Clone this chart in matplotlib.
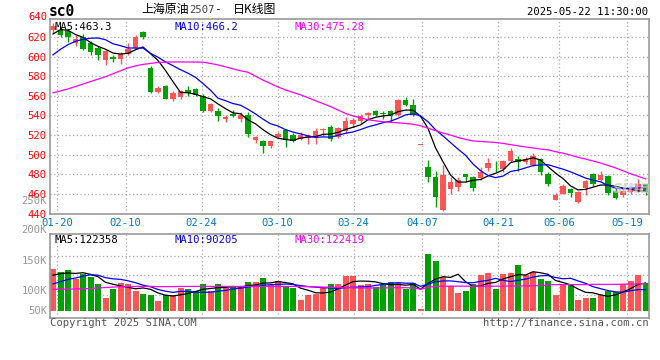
import numpy as np
import pandas as pd
import matplotlib
matplotlib.use('Agg')
import matplotlib.pyplot as plt
from matplotlib.transforms import blended_transform_factory

# trading days shown (01-17 .. 05-22)
dates = ['01-17', '01-20', '01-21', '01-22', '01-23', '01-24', '01-27',
         '02-05', '02-06', '02-07', '02-10', '02-11', '02-12', '02-13', '02-14',
         '02-17', '02-18', '02-19', '02-20', '02-21', '02-24', '02-25', '02-26',
         '02-27', '02-28',
         '03-03', '03-04', '03-05', '03-06', '03-07', '03-10', '03-11', '03-12',
         '03-13', '03-14', '03-17', '03-18', '03-19', '03-20', '03-21', '03-24',
         '03-25', '03-26', '03-27', '03-28', '03-31',
         '04-01', '04-02', '04-03', '04-07', '04-08', '04-09', '04-10', '04-11',
         '04-14', '04-15', '04-16', '04-17', '04-18', '04-21', '04-22', '04-23',
         '04-24', '04-25', '04-28', '04-29', '04-30',
         '05-06', '05-07', '05-08', '05-09', '05-12', '05-13', '05-14', '05-15',
         '05-16', '05-19', '05-20', '05-21', '05-22']
tick_dates = ['01-20', '02-10', '02-24', '03-10', '03-24', '04-07', '04-21', '05-06', '05-19']

opens = [627, 627.5, 626, 614, 620, 614, 609, 597, 600, 598, 603, 609, 625, 588.5, 563.5,
         570.5, 556.5, 559, 566, 567, 560, 544.5, 544.5, 536, 541, 536, 540.5, 515, 513.5, 509,
         518, 525, 520, 516, 517, 517.5, 525, 528.5, 517.5, 524, 531, 534.5, 540, 544, 542.2,
         544, 540, 555.5, 550.3, 510, 487, 477.5, 443.6, 465, 467.5, 480, 477, 476, 486, 488.7,
         485.3, 494, 496, 492, 489.3, 495.4, 480, 454, 460, 465, 451.4, 465.6, 480, 474.4, 478.5,
         463.2, 458.4, 461.5, 464, 470.3]
highs = [634, 630, 627, 621.5, 622.5, 616, 611, 607, 602, 605, 614, 621.5, 626, 590, 570.5,
         571.5, 565, 566, 570.5, 568, 561.5, 553, 548, 540, 546, 543, 543, 519, 515, 514,
         523, 526.5, 522.5, 523, 521, 527.5, 527, 530, 528.5, 538, 537.8, 541.2, 543, 545.6, 544.6,
         545.6, 557, 558.8, 557, 510, 495, 483, 489, 477, 477, 480.5, 478.5, 487, 496.5, 494,
         494.7, 506.3, 499, 498, 501.5, 497, 482, 460.5, 470, 465.6, 463.2, 474, 481.2, 483.6, 479.5,
         465.6, 464.5, 466.5, 475.5, 470.5]
lows = [624, 620, 615, 611, 607, 602, 596, 591.5, 594, 592, 602, 608, 617.5, 562.5, 562.5,
        556.5, 554.7, 557, 560, 560, 543, 543.5, 534.5, 533, 538, 533, 518.5, 511.5, 502, 507,
        516.5, 507.5, 512.4, 515, 511, 511, 519, 514, 516.5, 522.5, 528.6, 532.7, 536, 539.5, 536.8,
        533.4, 539.5, 549.7, 539.5, 510, 472.5, 447, 443, 460, 463, 471.7, 463, 474.5, 483.5, 482,
        482, 492, 483.6, 490.3, 488, 479, 468.3, 454, 459.8, 457, 450.7, 459.2, 467.6, 472.7, 459.2,
        454.8, 456.5, 460, 462, 458.5]
closes = [631, 621.5, 620, 617.5, 608, 604.5, 602, 605.5, 598, 603, 608, 620, 620, 564, 568,
          557, 563, 565, 562.5, 560.5, 544.5, 552, 539, 538.5, 539, 540, 521, 518.5, 509, 513.5,
          521.5, 515, 514, 520, 519, 524, 526.5, 516, 527.5, 534.5, 535, 539, 542, 540, 541.2,
          539.5, 556, 550.3, 540, 510, 477.5, 457, 479, 472.5, 474.5, 477, 466.5, 482.5, 491, 488,
          493.7, 504, 492, 496, 498.2, 482.5, 470, 459, 468.3, 461, 462, 472.7, 470, 479.5, 460.5,
          456, 463.2, 465, 470.3, 461.5]
# closes of the days before the window (needed for the first MA5/MA10 points)
prior_closes = [565, 572.5, 583, 588.5, 593.5, 599, 623.5, 639.5, 622]

ma30_price = [563, 565, 567, 569.5, 572, 574.5, 577, 579.5, 582.5, 585.5,
              588.5, 590.5, 592, 593, 594, 594.4, 594.5, 594.5, 594.4, 594.4,
              594.3, 593, 591.5, 589.5, 587.5, 585.5, 584, 580, 576, 572.5,
              569, 566, 563.5, 561, 558, 555, 552, 549, 545.5, 542,
              539.5, 537.5, 535.5, 534.5, 533.5, 533, 532.5, 531.8, 531, 529.5,
              527, 524.5, 522, 520, 517.5, 515.5, 514, 513.4, 513, 512.4,
              511.5, 510.2, 509, 507.8, 506.8, 505.7, 504.9, 503, 501.5, 499.5,
              497.3, 495.5, 493.5, 491.5, 489, 486.5, 483.5, 480.5, 478, 475.3]

volume_k = [189, 174, 185, 144, 164, 152, 122, 59, 100, 127, 122, 89, 77, 70, 45, 73, 70, 104,
            100, 89, 122, 89, 122, 104, 112, 104, 130, 130, 149, 115, 134, 107, 103, 51, 70,
            77, 103, 122, 122, 155, 155, 115, 119, 107, 115, 130, 125, 100, 125, 9, 256, 224,
            152, 110, 80, 89, 119, 160, 170, 100, 167, 170, 207, 160, 174, 144, 134, 70, 115,
            122, 51, 59, 59, 70, 89, 85, 122, 134, 162, 125]
prior_volume_k = [75, 80, 85, 80, 90, 139, 170, 154, 148]
ma30_volume_k = [97, 97.5, 98, 98.5, 99, 101, 103, 105, 107, 108,
                 109, 110, 110, 110, 109, 109, 109, 110, 110, 110,
                 110, 110, 110, 110, 110, 110, 110, 110, 110, 110,
                 110, 110, 110, 109, 109, 108, 107, 106, 105, 104,
                 104, 103, 103, 103, 103, 104, 104, 104, 103, 97,
                 106, 110, 111, 111, 111, 111, 111, 111, 111, 111,
                 111, 112, 112, 112, 113, 114, 116, 118, 118, 118,
                 118, 118, 119, 119, 119, 119, 120, 120, 121, 122]

price_ticks = [440, 460, 480, 500, 520, 540, 560, 580, 600, 620]

RED = '#ff5555'
GREEN = '#00a000'
GRID = '#aaaaaa'
FRAME = '#999999'
MONO = 'DejaVu Sans Mono'
CJK = ['Noto Sans CJK SC', 'DejaVu Sans']

W, H = 660, 360


def fx(x):
    return x / W


def fy(y):
    return 1 - y / H


x = np.arange(len(closes))
o = np.array(opens)
c = np.array(closes)
up = c >= o
cols = np.where(up, RED, GREEN)

ma5 = pd.Series(prior_closes + closes).rolling(5).mean().values[len(prior_closes):]
ma10 = pd.Series(prior_closes + closes).rolling(10).mean().values[len(prior_closes):]
vol = np.array(volume_k) * 1000
vma5 = pd.Series(prior_volume_k + volume_k).rolling(5).mean().values[len(prior_volume_k):] * 1000
vma10 = pd.Series(prior_volume_k + volume_k).rolling(10).mean().values[len(prior_volume_k):] * 1000
vma30 = np.array(ma30_volume_k) * 1000

# sina spaces the date grid a little wider than the candles
tick_idx = np.array([dates.index(d) for d in tick_dates])
tick_pos = tick_idx * 1.0133 - 0.44

fig = plt.figure(figsize=(6.6, 3.6), dpi=100)
fig.patch.set_facecolor('white')

ax = fig.add_axes([fx(50), fy(213.5), fx(599.3), 194.5 / H])
ax2 = fig.add_axes([fx(50), fy(318.3), fx(599.3), 84.6 / H])

for a in (ax, ax2):
    a.set_xlim(-0.4, 79.5)
    for s in a.spines.values():
        s.set_color(FRAME)
        s.set_linewidth(1.2)
    a.set_xticks(tick_pos)
    a.tick_params(length=0)
    a.grid(True, color=GRID, linestyle=(0, (1, 2)), linewidth=0.9)
    a.set_axisbelow(True)

# candles
ax.vlines(x, lows, highs, colors=cols, linewidth=1)
body = np.maximum(np.abs(c - o), 0.8)
ax.bar(x, body, bottom=np.minimum(o, c), width=0.68, color=cols, linewidth=0)
ax.plot(x, ma5, color='black', lw=0.9)
ax.plot(x, ma10, color='#0000ff', lw=0.9)
ax.plot(x, ma30_price, color='#ff00ff', lw=0.9)

ax.set_ylim(440, 638.3)
ax.set_yticks(price_ticks)
ax.set_yticklabels([str(t) for t in price_ticks], color='#ff0000', fontfamily=MONO, fontsize=7.6)
ax.tick_params(axis='y', pad=2.5)
ax.text(-0.005, 640, '640', transform=blended_transform_factory(ax.transAxes, ax.transData),
        ha='right', va='center', color='#ff0000', fontfamily=MONO, fontsize=7.6, clip_on=False)
ax.set_xticklabels(tick_dates, color='#0077cc', fontfamily=MONO, fontsize=7.6)
ax.tick_params(axis='x', pad=3)

ax.text(0.008, 0.985, 'MA5:463.3', transform=ax.transAxes, ha='left', va='top',
        color='black', fontfamily=MONO, fontsize=7.6)
ax.text(0.208, 0.985, 'MA10:466.2', transform=ax.transAxes, ha='left', va='top',
        color='#0000ff', fontfamily=MONO, fontsize=7.6)
ax.text(0.408, 0.985, 'MA30:475.28', transform=ax.transAxes, ha='left', va='top',
        color='#ff00ff', fontfamily=MONO, fontsize=7.6)

# volume
ax2.bar(x, vol, width=0.8, color=cols, linewidth=0)
ax2.plot(x, vma5, color='black', lw=0.9)
ax2.plot(x, vma10, color='#0000ff', lw=0.9)
ax2.plot(x, vma30, color='#ff00ff', lw=0.9)
ax2.set_ylim(-32600, 345500)
ax2.set_yticks([73000, 159500, 246000])
ax2.set_yticklabels([])
ax2.set_xticklabels([])

ax2.text(0.008, 0.985, 'MA5:122358', transform=ax2.transAxes, ha='left', va='top',
         color='black', fontfamily=MONO, fontsize=7.6)
ax2.text(0.208, 0.985, 'MA10:90205', transform=ax2.transAxes, ha='left', va='top',
         color='#0000ff', fontfamily=MONO, fontsize=7.6)
ax2.text(0.408, 0.985, 'MA30:122419', transform=ax2.transAxes, ha='left', va='top',
         color='#ff00ff', fontfamily=MONO, fontsize=7.6)

for lab, yy in [('250K', 201), ('200K', 230), ('150K', 260.7), ('100K', 290.7), ('50K', 310.7)]:
    fig.text(fx(47), fy(yy), lab, ha='right', va='center', color='#999999',
             fontfamily=MONO, fontsize=7.6)

# header
fig.text(fx(49), fy(11), 'sc0', ha='left', va='center', fontfamily=MONO,
         fontweight='bold', fontsize=10.5)
fig.text(fx(141), fy(9.5), '上海原油', ha='left', va='center', family=CJK, fontsize=8.6)
fig.text(fx(189), fy(10), '2507', ha='left', va='center', color='#444444',
         fontfamily=MONO, fontsize=7.6)
fig.text(fx(214), fy(9.5), '-', ha='left', va='center', fontfamily=MONO, fontsize=8)
fig.text(fx(233), fy(9.5), '日K线图', ha='left', va='center', family=CJK, fontsize=8.6)
fig.text(fx(648), fy(12), '2025-05-22 11:30:00', ha='right', va='center',
         fontfamily=MONO, fontsize=7.6)

# footer
fig.text(fx(50), fy(323.5), 'Copyright 2025 SINA.COM', ha='left', va='center',
         color='#555555', fontfamily=MONO, fontsize=7.6)
fig.text(fx(649), fy(323.5), 'http://finance.sina.com.cn', ha='right', va='center',
         color='#555555', fontfamily=MONO, fontsize=7.6)

fig.text(fx(632), fy(188), 'sina', ha='center', va='center', color='#cccccc', alpha=0.7,
         fontsize=12, fontweight='bold', style='italic')

fig.savefig('out.png', dpi=100)
